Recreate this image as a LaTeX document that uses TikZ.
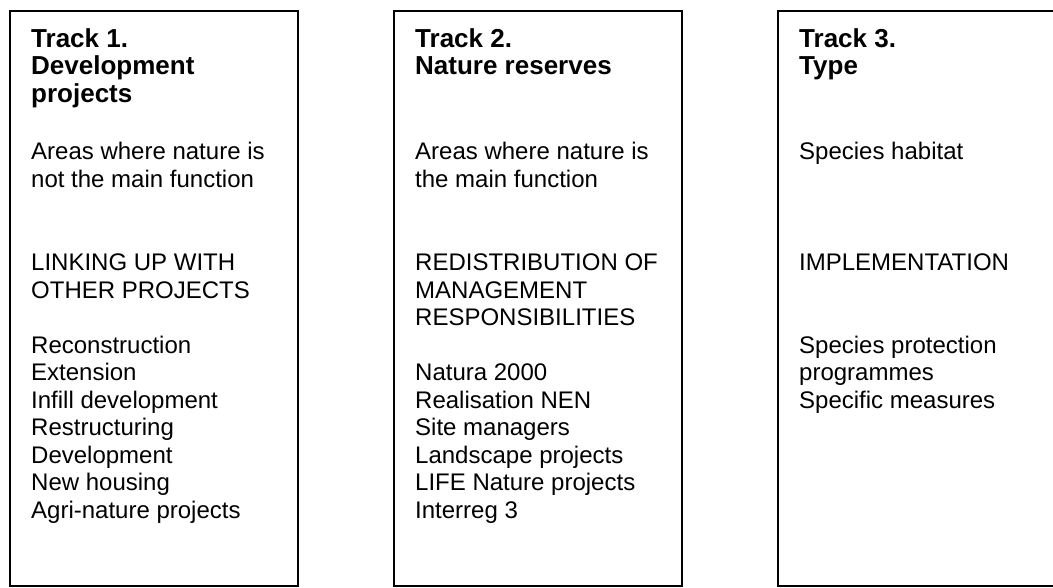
\documentclass[tikz,border=0pt]{standalone}
\usepackage{fontspec}
\setmainfont{Liberation Sans}

\tikzset{
	trackbox/.style={draw=black, line width=1.4pt},
	tracktext/.style={anchor=base west, align=left, inner sep=0pt,
		font=\fontsize{24}{27.5}\selectfont},
	tracktitle/.style={tracktext, font=\fontsize{26}{27.5}\selectfont\bfseries},
}

\begin{document}
\begin{tikzpicture}[x=1pt, y=-1pt]
		\def\boxStep{384} % Distance between the left edges of the boxes
		\def\boxW{288} % Width of one box
		\def\boxH{575} % Height of one box
		\def\pad{21} % Indent of the text inside a box
		
		\useasboundingbox (0,0) rectangle (1053,587);
		\clip (0,0) rectangle (1053,587);
		
		% Draw the three boxes
		\foreach \i in {0, 1, 2} {
			\draw[trackbox] (10 + \i * \boxStep, 11) rectangle ++(\boxW, \boxH);
		}
		
		% Titles (base anchor sits on the last line)
		\node[tracktitle] (head1) at (10 + \pad, 102) {Track 1.\\Development\\projects};
		\node[tracktitle] (head2) at (10 + \boxStep + \pad, 74.5) {Track 2.\\Nature reserves};
		\node[tracktitle] (head3) at (10 + 2 * \boxStep + \pad, 74.5) {Track 3.\\Type};
		
		% Text under the titles
		\node[tracktext] (body1) at (10 + \pad, 518) {Areas where nature is\\
			not the main function\\[56pt]
			LINKING UP WITH\\
			OTHER PROJECTS\\[27.5pt]
			Reconstruction\\
			Extension\\
			Infill development\\
			Restructuring\\
			Development\\
			New housing\\
			Agri-nature projects};
		\node[tracktext] (body2) at (10 + \boxStep + \pad, 518) {Areas where nature is\\
			the main function\\[56pt]
			REDISTRIBUTION OF\\
			MANAGEMENT\\
			RESPONSIBILITIES\\[27.5pt]
			Natura 2000\\
			Realisation NEN\\
			Site managers\\
			Landscape projects\\
			LIFE Nature projects\\
			Interreg 3};
		\node[tracktext] (body3) at (10 + 2 * \boxStep + \pad, 408) {Species habitat\\[83.5pt]
			IMPLEMENTATION\\[55pt]
			Species protection\\
			programmes\\
			Specific measures};
	\end{tikzpicture}
\end{document}
